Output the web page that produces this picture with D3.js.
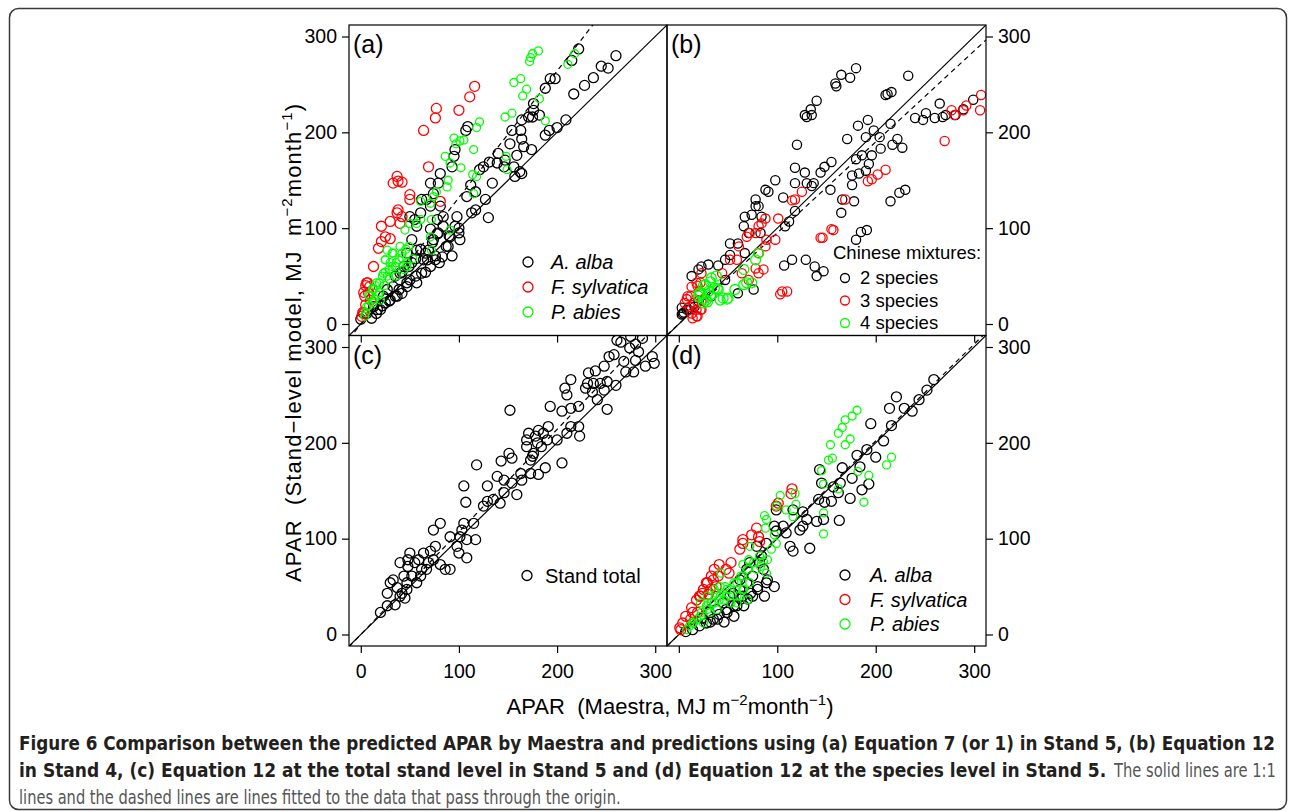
<!DOCTYPE html>
<html>
<head>
<meta charset="utf-8">
<script src="https://cdn.jsdelivr.net/npm/d3@7"></script>
<style>
  body { margin: 0; background: #fff; }
  svg text { font-family: "Liberation Sans", Arial, Helvetica, sans-serif; white-space: pre; }
  .cap { font-family: "Liberation Sans Narrow", "DejaVu Sans Condensed", "Liberation Sans", sans-serif; }
</style>
</head>
<body>
<div id="chart"></div>
<script>
// axis values shared by all four panels
const tickValues = [0, 100, 200, 300]
const axisDomain = [-12, 312]

// slopes of the dashed lines fitted through the origin
const fitSlopes = { a: 1.32, b: 0.95, c: 1.07, d: 1.01 }

// (a) Equation 7 in Stand 5
const albaA = [[260,280],[252,267],[245,269],[237,257],[228,249],[222,287],[215,275],[217,240],[209,213],[200,205],[192,202],[188,197],[193,256],[198,256],[188,246],[182,218],[176,230],[176,223],[175,216],[171,216],[164,213],[163,202],[164,193],[166,185],[174,182],[159,176],[152,188],[154,202],[156,164],[162,159],[164,157],[157,154],[147,171],[146,164],[140,178],[139,168],[134,147],[127,130],[130,111],[131,169],[125,164],[121,161],[117,119],[113,116],[117,138],[112,145],[108,133],[109,206],[107,202],[96,182],[95,175],[93,164],[81,157],[79,147],[74,136],[71,147],[67,130],[71,123],[62,130],[61,116],[98,112],[96,102],[100,95],[84,102],[89,81],[83,70],[79,95],[74,88],[69,77],[64,67],[62,53],[66,74],[57,43],[50,46],[47,39],[42,32],[37,29],[30,25],[25,22],[20,15],[16,11],[11,6],[57,102],[55,109],[50,112],[52,88],[47,74],[44,60],[35,50],[33,39],[81,123],[84,112],[78,109],[91,91],[101,88],[71,60],[76,67],[57,77],[52,64],[40,53],[27,36],[0,5],[6,11],[13,18],[23,29],[87,81],[93,71],[80,64],[66,54],[76,71],[68,67],[56,50],[47,43],[39,36],[35,29],[29,24],[22,19],[17,15],[100,100],[90,92],[73,85],[56,68],[49,60],[42,54],[61,78],[71,99],[78,94]]
const sylvaticaA = [[116,248],[111,237],[77,225],[76,215],[100,223],[64,202],[69,164],[37,154],[38,149],[33,147],[42,148],[50,135],[50,130],[38,119],[30,107],[42,112],[40,105],[37,116],[21,102],[25,91],[18,79],[21,86],[13,60],[6,43],[9,39],[4,29],[3,11],[1,8],[81,128],[30,89],[8,32],[5,20],[10,25],[5,40],[3,33],[2,12],[7,43]]
const abiesA = [[181,285],[175,282],[173,278],[172,274],[211,271],[218,282],[163,256],[156,252],[169,245],[165,238],[182,235],[154,220],[147,216],[188,212],[121,211],[118,205],[95,194],[97,188],[101,191],[105,192],[86,175],[91,168],[102,163],[115,182],[114,156],[118,154],[149,161],[148,175],[89,150],[88,143],[77,138],[74,133],[71,126],[61,128],[72,109],[71,91],[61,109],[57,105],[50,105],[45,98],[40,81],[33,74],[27,77],[25,67],[30,64],[35,60],[42,69],[47,60],[23,53],[16,43],[13,36],[9,29],[6,18],[20,25],[27,50],[115,136],[91,98],[72,77],[18,30],[12,22],[4,8],[8,30],[12,37],[15,40],[19,43],[22,50],[25,54],[29,57],[32,60],[36,64],[39,67],[42,74],[46,78],[49,81],[24,40],[29,47],[19,33],[14,26],[8,19],[5,12],[36,50],[47,64],[53,68],[44,57],[32,74],[25,67]]

// (b) Equation 12 in Stand 4
const twoSpecies = [[180,267],[174,257],[165,260],[159,251],[160,248],[140,233],[134,224],[135,218],[128,218],[130,216],[233,259],[216,242],[212,240],[210,239],[265,230],[251,220],[240,215],[248,213],[260,215],[268,216],[271,218],[299,234],[289,224],[281,218],[192,213],[182,207],[171,193],[190,195],[198,202],[204,195],[215,209],[222,193],[217,187],[227,184],[205,183],[196,176],[193,167],[186,176],[180,172],[183,157],[176,155],[190,160],[176,145],[155,169],[148,164],[144,158],[128,158],[120,187],[118,147],[130,147],[135,144],[154,140],[166,130],[178,128],[165,116],[215,128],[224,137],[230,140],[191,98],[185,96],[180,88],[147,55],[140,50],[138,60],[129,67],[115,67],[107,61],[108,102],[112,107],[118,118],[106,132],[98,150],[91,138],[88,140],[81,123],[74,114],[67,112],[66,102],[60,84],[52,84],[47,67],[40,61],[30,62],[23,60],[20,57],[13,50],[52,72],[76,36],[60,32],[33,29],[20,24],[4,11],[3,10],[10,15],[16,18],[47,46],[67,74],[83,95],[78,123],[71,95],[78,130],[84,112],[118,163],[137,147],[5,12],[8,15],[3,17]]
const threeSpecies = [[307,239],[306,223],[292,228],[289,223],[277,223],[280,218],[270,191],[210,161],[202,156],[196,151],[192,149],[169,130],[157,98],[155,99],[146,90],[144,90],[125,138],[118,130],[115,129],[101,110],[110,34],[105,34],[103,31],[88,110],[84,105],[81,102],[78,95],[72,95],[69,91],[89,88],[98,88],[88,81],[81,74],[61,81],[59,67],[64,53],[71,46],[81,53],[86,57],[78,58],[52,67],[44,53],[23,53],[18,43],[13,39],[9,29],[6,22],[11,18],[18,8],[14,6],[13,11],[23,15],[21,34],[23,24],[18,15],[19,8],[22,15],[15,22],[12,29],[8,26],[22,43],[19,40]]
const fourSpecies = [[81,74],[78,67],[74,43],[69,43],[66,41],[66,57],[57,36],[50,27],[45,27],[42,25],[40,36],[33,48],[38,50],[32,44],[27,41],[21,32],[20,29],[25,22],[28,25],[30,34],[22,33],[25,26],[29,23],[32,30],[36,37],[39,37],[25,40],[49,26]]

// (c) Equation 12, total stand level, Stand 5
const standTotal = [[261,307],[265,305],[275,311],[280,303],[287,309],[274,299],[283,295],[297,290],[299,283],[290,280],[280,286],[268,285],[258,292],[253,290],[248,280],[239,275],[232,273],[231,262],[237,262],[244,262],[251,264],[260,260],[270,274],[278,274],[251,235],[248,255],[236,253],[241,245],[229,257],[214,266],[208,257],[210,250],[205,233],[214,236],[222,238],[214,217],[223,207],[222,217],[210,210],[205,179],[193,238],[191,217],[186,210],[181,213],[178,207],[171,210],[169,203],[169,196],[180,200],[184,196],[190,203],[200,203],[175,186],[173,182],[176,189],[188,174],[181,167],[173,168],[164,161],[163,168],[152,234],[151,189],[154,184],[143,181],[139,165],[146,161],[154,158],[159,146],[146,148],[142,137],[135,141],[129,155],[118,177],[105,155],[107,138],[125,134],[129,139],[115,116],[105,116],[103,109],[101,102],[108,99],[117,99],[91,102],[98,92],[100,85],[108,80],[81,116],[74,109],[76,92],[71,87],[64,85],[59,78],[50,85],[48,71],[40,75],[52,61],[62,68],[69,75],[74,78],[81,73],[91,68],[86,68],[44,61],[33,57],[30,54],[37,49],[42,43],[45,38],[47,47],[40,40],[27,43],[35,31],[27,30],[20,23],[57,54],[67,68],[61,61],[55,75],[47,54],[48,78]]

// (d) Equation 12, species level, Stand 5
const albaD = [[259,266],[252,255],[244,245],[237,233],[221,248],[214,236],[229,236],[216,218],[195,220],[208,202],[191,193],[181,187],[200,185],[184,175],[176,163],[193,157],[186,151],[174,142],[166,174],[164,158],[157,154],[143,172],[145,158],[142,141],[148,138],[155,139],[162,148],[147,120],[163,119],[140,118],[130,120],[126,113],[133,90],[116,87],[113,92],[109,106],[99,108],[97,113],[89,95],[84,82],[89,54],[80,50],[75,61],[69,68],[65,40],[69,54],[62,47],[59,30],[52,40],[48,26],[41,21],[35,16],[28,12],[21,9],[14,5],[7,3],[82,75],[79,92],[86,68],[99,130],[116,130],[106,113],[126,128],[123,109],[72,75],[62,57],[55,43],[75,40],[45,33],[38,26],[31,23],[24,17],[32,13],[39,16],[49,23],[56,30],[63,37],[73,43],[80,47],[66,30],[56,19],[46,13],[70,37],[87,40],[97,50],[90,57]]
const sylvaticaD = [[115,152],[114,147],[101,137],[99,134],[79,111],[74,104],[81,102],[82,97],[65,99],[62,89],[65,95],[53,75],[48,68],[41,73],[36,68],[33,61],[35,57],[40,61],[28,54],[24,43],[21,40],[18,36],[13,28],[7,19],[4,12],[1,7],[14,23],[51,64],[30,42],[38,50],[2,5],[12,16],[19,23],[25,47],[29,54],[32,47],[22,40]]
const abiesD = [[181,234],[176,228],[169,224],[166,216],[162,210],[174,204],[169,198],[154,198],[156,184],[152,182],[216,185],[211,177],[193,166],[182,170],[145,171],[147,157],[162,152],[188,138],[147,127],[147,105],[119,136],[118,147],[116,123],[109,130],[103,145],[99,134],[87,124],[89,120],[88,111],[97,104],[99,95],[94,89],[82,82],[86,76],[89,64],[72,92],[71,78],[65,73],[65,61],[59,54],[52,47],[47,50],[43,64],[38,43],[33,33],[28,30],[23,23],[18,16],[14,12],[11,9],[41,36],[48,40],[65,47],[79,68],[72,54],[62,40],[70,36],[59,33],[8,5],[15,12],[22,19],[29,26],[36,33],[42,40],[49,47],[56,54],[63,61],[70,68],[46,36],[32,23],[39,26],[25,12],[53,33],[59,40],[66,47],[29,40],[36,47],[42,50],[22,33],[76,75],[83,71],[90,78]]

const speciesNames = ['A. alba', 'F. sylvatica', 'P. abies']
const mixtureNames = ['2 species', '3 species', '4 species']

const width = 1290
const height = 812

const svg = d3.select('#chart')
    .append('svg')
    .attr('width', width)
    .attr('height', height)

svg.append('rect')
    .attr('x', 9.5).attr('y', 8.5)
    .attr('width', 1277).attr('height', 801)
    .attr('rx', 9)
    .attr('fill', 'none')
    .attr('stroke', '#3a3a3a')
    .attr('stroke-width', 1.5)

const panels = [
    {
        id: 'a', left: 349, right: 667, top: 25, bottom: 335.5, yAxis: 'left', xLabels: false,
        series: [
            { data: albaA, color: '#000', r: 5 },
            { data: sylvaticaA, color: '#ff0000', r: 5 },
            { data: abiesA, color: '#00ff00', r: 4 },
        ],
        legend: { x: 179, y: 237, step: 25, textDx: 23, size: 20, italic: true, names: speciesNames, r: 5 },
    },
    {
        id: 'b', left: 667, right: 986, top: 25, bottom: 335.5, yAxis: 'right', xLabels: false,
        series: [
            { data: twoSpecies, color: '#000', r: 4.6 },
            { data: threeSpecies, color: '#ff0000', r: 4.6 },
            { data: fourSpecies, color: '#00ff00', r: 5 },
        ],
        legend: { x: 178, y: 228, step: 22.5, textDx: 15, size: 18.5, italic: false, names: mixtureNames, r: 4.5, title: 'Chinese mixtures:' },
    },
    {
        id: 'c', left: 349, right: 667, top: 335.5, bottom: 646, yAxis: 'left', xLabels: true,
        series: [
            { data: standTotal, color: '#000', r: 5 },
        ],
        legend: { x: 178, y: 240, step: 25, textDx: 18, size: 20, italic: false, names: ['Stand total'], r: 5 },
    },
    {
        id: 'd', left: 667, right: 986, top: 335.5, bottom: 646, yAxis: 'right', xLabels: true, skipZero: true,
        series: [
            { data: albaD, color: '#000', r: 5 },
            { data: sylvaticaD, color: '#ff0000', r: 5 },
            { data: abiesD, color: '#00ff00', r: 4 },
        ],
        legend: { x: 178, y: 239.5, step: 24.5, textDx: 25, size: 20, italic: true, names: speciesNames, r: 5 },
    },
]

panels.forEach(p => drawPanel(p))

function drawPanel(p) {
    const x = d3.scaleLinear().domain(axisDomain).range([p.left, p.right])
    const y = d3.scaleLinear().domain(axisDomain).range([p.bottom, p.top])

    svg.append('clipPath')
        .attr('id', 'clip-' + p.id)
        .append('rect')
        .attr('x', p.left).attr('y', p.top)
        .attr('width', p.right - p.left).attr('height', p.bottom - p.top)

    const g = svg.append('g').attr('clip-path', `url(#clip-${p.id})`)

    const line = d3.line().x(d => x(d[0])).y(d => y(d[1]))
    g.append('path')
        .attr('d', line(axisDomain.map(v => [v, v])))
        .attr('fill', 'none')
        .attr('stroke', '#000')
        .attr('stroke-width', 1.2)
    g.append('path')
        .attr('d', line(axisDomain.map(v => [v, v * fitSlopes[p.id]])))
        .attr('fill', 'none')
        .attr('stroke', '#000')
        .attr('stroke-width', 1.2)
        .attr('stroke-dasharray', '5,4')

    p.series.forEach(s => {
        g.selectAll(null)
            .data(s.data)
            .join('circle')
            .attr('cx', d => x(d[0]))
            .attr('cy', d => y(d[1]))
            .attr('r', s.r)
            .attr('fill', 'none')
            .attr('stroke', s.color)
            .attr('stroke-width', 1.3)
    })

    svg.append('rect')
        .attr('x', p.left).attr('y', p.top)
        .attr('width', p.right - p.left).attr('height', p.bottom - p.top)
        .attr('fill', 'none')
        .attr('stroke', '#000')
        .attr('stroke-width', 1.2)

    // y axis
    const yAxis = (p.yAxis === 'left' ? d3.axisLeft(y) : d3.axisRight(y))
        .tickValues(tickValues).tickSize(7).tickPadding(5)
    const ya = svg.append('g')
        .attr('transform', `translate(${p.yAxis === 'left' ? p.left : p.right},0)`)
        .call(yAxis)
    styleAxis(ya)

    // x axis
    const xAxis = d3.axisBottom(x).tickValues(tickValues).tickSize(7).tickPadding(11)
        .tickFormat(d => (!p.xLabels || (p.skipZero && d === 0)) ? '' : d)
    const xa = svg.append('g')
        .attr('transform', `translate(0,${p.bottom})`)
        .call(xAxis)
    styleAxis(xa)

    svg.append('text')
        .attr('x', p.left + 4)
        .attr('y', p.top + 28)
        .attr('font-size', 25)
        .text(`(${p.id})`)

    // legend
    const lg = p.legend
    let rowY = p.top + lg.y
    if (lg.title) {
        svg.append('text')
            .attr('x', p.left + 166)
            .attr('y', rowY)
            .attr('dy', '0.35em')
            .attr('font-size', lg.size)
            .text(lg.title)
        rowY += 25
    }
    lg.names.forEach((name, i) => {
        const cy = rowY + i * lg.step
        svg.append('circle')
            .attr('cx', p.left + lg.x)
            .attr('cy', cy)
            .attr('r', lg.r)
            .attr('fill', 'none')
            .attr('stroke', p.series[i].color)
            .attr('stroke-width', 1.3)
        svg.append('text')
            .attr('x', p.left + lg.x + lg.textDx)
            .attr('y', cy)
            .attr('dy', '0.35em')
            .attr('font-size', lg.size)
            .attr('font-style', lg.italic ? 'italic' : 'normal')
            .text(name)
    })
}

function styleAxis(a) {
    a.select('.domain').remove()
    a.selectAll('line').attr('stroke', '#000').attr('stroke-width', 1.2)
    a.selectAll('text')
        .attr('fill', '#000')
        .attr('font-size', 19.5)
        .style('font-family', '"Liberation Sans", Arial, sans-serif')
}

// axis titles with superscript units
function unitTitle(sel, lead) {
    sel.append('tspan').text(lead)
    sel.append('tspan').attr('font-size', 15).attr('dy', -9).text('\u22122')
    sel.append('tspan').attr('dy', 9).text('month')
    sel.append('tspan').attr('font-size', 15).attr('dy', -9).text('\u22121')
    sel.append('tspan').attr('dy', 9).text(')')
}

const yTitle = svg.append('text')
    .attr('transform', 'translate(301,343) rotate(-90)')
    .attr('text-anchor', 'middle')
    .attr('font-size', 22)
    .attr('textLength', 478)
unitTitle(yTitle, 'APAR  (Stand\u2212level model, MJ  m')

const xTitle = svg.append('text')
    .attr('x', 670)
    .attr('y', 714)
    .attr('text-anchor', 'middle')
    .attr('font-size', 22)
    .attr('textLength', 327)
unitTitle(xTitle, 'APAR  (Maestra, MJ m')

// caption, each piece squeezed horizontally to the width it has in the figure
const captionLines = [
    { text: 'Figure 6 Comparison between the predicted APAR by Maestra and predictions using (a) Equation 7 (or 1) in Stand 5, (b) Equation 12', x: 19, y: 750, w: 1257, bold: true },
    { text: 'in Stand 4, (c) Equation 12 at the total stand level in Stand 5 and (d) Equation 12 at the species level in Stand 5.', x: 19, y: 777, w: 1088, bold: true },
    { text: 'The solid lines are 1:1', x: 1114, y: 777, w: 162, bold: false },
    { text: 'lines and the dashed lines are lines fitted to the data that pass through the origin.', x: 19, y: 804, w: 602, bold: false },
]
captionLines.forEach(c => {
    const t = svg.append('text')
        .attr('class', 'cap')
        .attr('font-size', 19)
        .attr('font-weight', c.bold ? 'bold' : 'normal')
        .attr('fill', c.bold ? '#231f20' : '#555')
        .text(c.text)
    const natural = t.node().getComputedTextLength()
    t.attr('transform', `translate(${c.x},${c.y}) scale(${c.w / natural},1)`)
})
</script>
</body>
</html>
